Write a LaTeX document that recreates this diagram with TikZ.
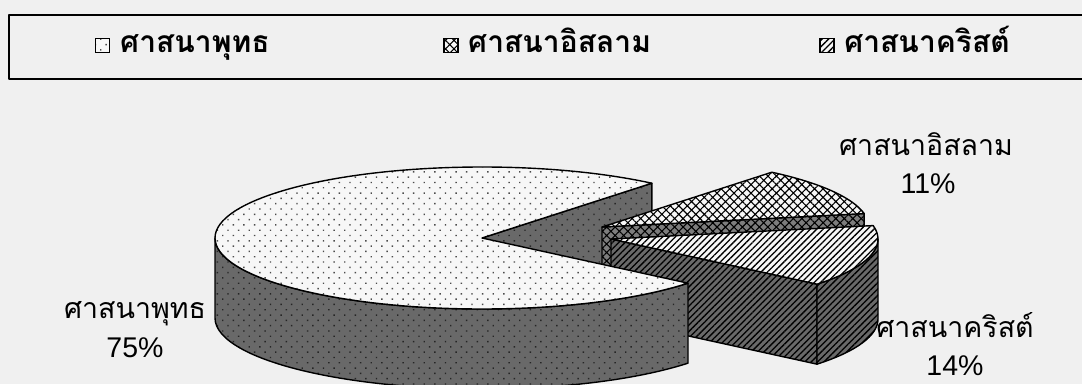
\documentclass[tikz,border=0pt]{standalone}
\usepackage{fontspec}
\setmainfont{Liberation Sans}
\newfontfamily\thaifont[Script=Thai]{Loma}
\usepackage{tikz}
\usetikzlibrary{calc,patterns.meta,positioning}
\definecolor{paper}{RGB}{240,240,240}
\definecolor{wallgray}{RGB}{105,105,105}
\definecolor{facegray}{RGB}{125,125,125}
\definecolor{topgray}{RGB}{247,247,247}
\tikzset{
  edge/.style={draw=black,line width=1.4pt,line join=round},
  lightdots/.style={preaction={fill=topgray},pattern color=black!70,
    pattern={Dots[distance=7.5pt,angle=45,radius=1pt]}},
  darkdots/.style={preaction={fill=wallgray},pattern color=black!85,
    pattern={Dots[distance=7.5pt,angle=45,radius=1pt]}},
  lightcross/.style={preaction={fill=topgray},pattern color=black,
    pattern={Hatch[angle=45,distance=6pt,line width=1.1pt]}},
  darkcross/.style={preaction={fill=facegray},pattern color=black,
    pattern={Hatch[angle=45,distance=6pt,line width=1.1pt]}},
  lightlines/.style={preaction={fill=topgray},pattern color=black,
    pattern={Lines[angle=45,distance=4.5pt,line width=1.3pt]}},
  darklines/.style={preaction={fill=wallgray},pattern color=black,
    pattern={Lines[angle=45,distance=4.5pt,line width=1.3pt]}},
  legsym/.style={draw=black,line width=1.2pt,minimum size=14pt,inner sep=0pt},
  legtxt/.style={inner sep=0pt,font=\thaifont\bfseries\fontsize{30}{33}\selectfont},
  lbl/.style={inner sep=0pt,font=\fontsize{28.5}{31}\selectfont}
}
\begin{document}
\begin{tikzpicture}[x=1pt,y=1pt]
\useasboundingbox[fill=paper] (0,0) rectangle (1082,384);
\draw[edge] (1082,369) -- (9,369) -- (9,305) -- (1082,305);
\node[legsym,lightdots] (sym1) at (102.5,338.5) {};
\node[legtxt,anchor=base west] (leg1) at (120,331) {ศาสนาพุทธ};
\node[legtxt,anchor=base west] (leg2) at (468,331) {ศาสนาอิสลาม};
\node[legtxt,anchor=base east] (leg3) at (1010,331) {ศาสนาคริสต์};
\node[legsym,lightcross,xshift=-17pt] (sym2) at (leg2.west |- sym1) {};
\node[legsym,lightlines,xshift=-17pt] (sym3) at (leg3.west |- sym1) {};
\coordinate (bc) at (482,146);
\coordinate (ic) at (602,157);
\coordinate (cc) at (611,145);
\path[darkdots,edge] (bc) -- ($(bc)+(50.5:267pt and 71pt)$) -- ++(0,-80) -- ($(bc)+(0,-80)$) -- cycle;
\path[darkcross,edge] (ic) -- ($(ic)+(10.9:267pt and 71pt)$) -- ++(0,-80) -- ($(ic)+(0,-80)$) -- cycle;
\path[lightcross,edge] (ic) -- ($(ic)+(10.9:267pt and 71pt)$) arc[start angle=10.9,end angle=50.5,x radius=267,y radius=71] -- cycle;
\path[darklines,edge] (cc) -- ($(cc)+(-39.5:267pt and 71pt)$) -- ++(0,-80) -- ($(cc)+(0,-80)$) -- cycle;
\path[darklines,edge] ($(cc)+(-39.5:267pt and 71pt)$) arc[start angle=-39.5,end angle=0,x radius=267,y radius=71] -- ++(0,-80) arc[start angle=0,end angle=-39.5,x radius=267,y radius=71] -- cycle;
\path[lightlines,edge] (cc) -- ($(cc)+(-39.5:267pt and 71pt)$) arc[start angle=-39.5,end angle=10.9,x radius=267,y radius=71] -- cycle;
\path[darkdots,edge] ($(bc)+(180:267pt and 71pt)$) arc[start angle=180,end angle=320.5,x radius=267,y radius=71] -- ++(0,-80) arc[start angle=320.5,end angle=180,x radius=267,y radius=71] -- cycle;
\path[lightdots,edge] (bc) -- ($(bc)+(50.5:267pt and 71pt)$) arc[start angle=50.5,end angle=320.5,x radius=267,y radius=71] -- cycle;
\node[lbl,anchor=base] (buddha) at (135,66) {\thaifont ศาสนาพุทธ};
\node[lbl,anchor=base] (buddhapct) at (135,27) {75\%};
\node[lbl,anchor=base] (islam) at (926,229) {\thaifont ศาสนาอิสลาม};
\node[lbl,anchor=base] (islampct) at (928,191) {11\%};
\node[lbl,anchor=base] (christ) at (955,47) {\thaifont ศาสนาคริสต์};
\node[lbl,anchor=base] (christpct) at (955,9) {14\%};
\end{tikzpicture}
\end{document}
